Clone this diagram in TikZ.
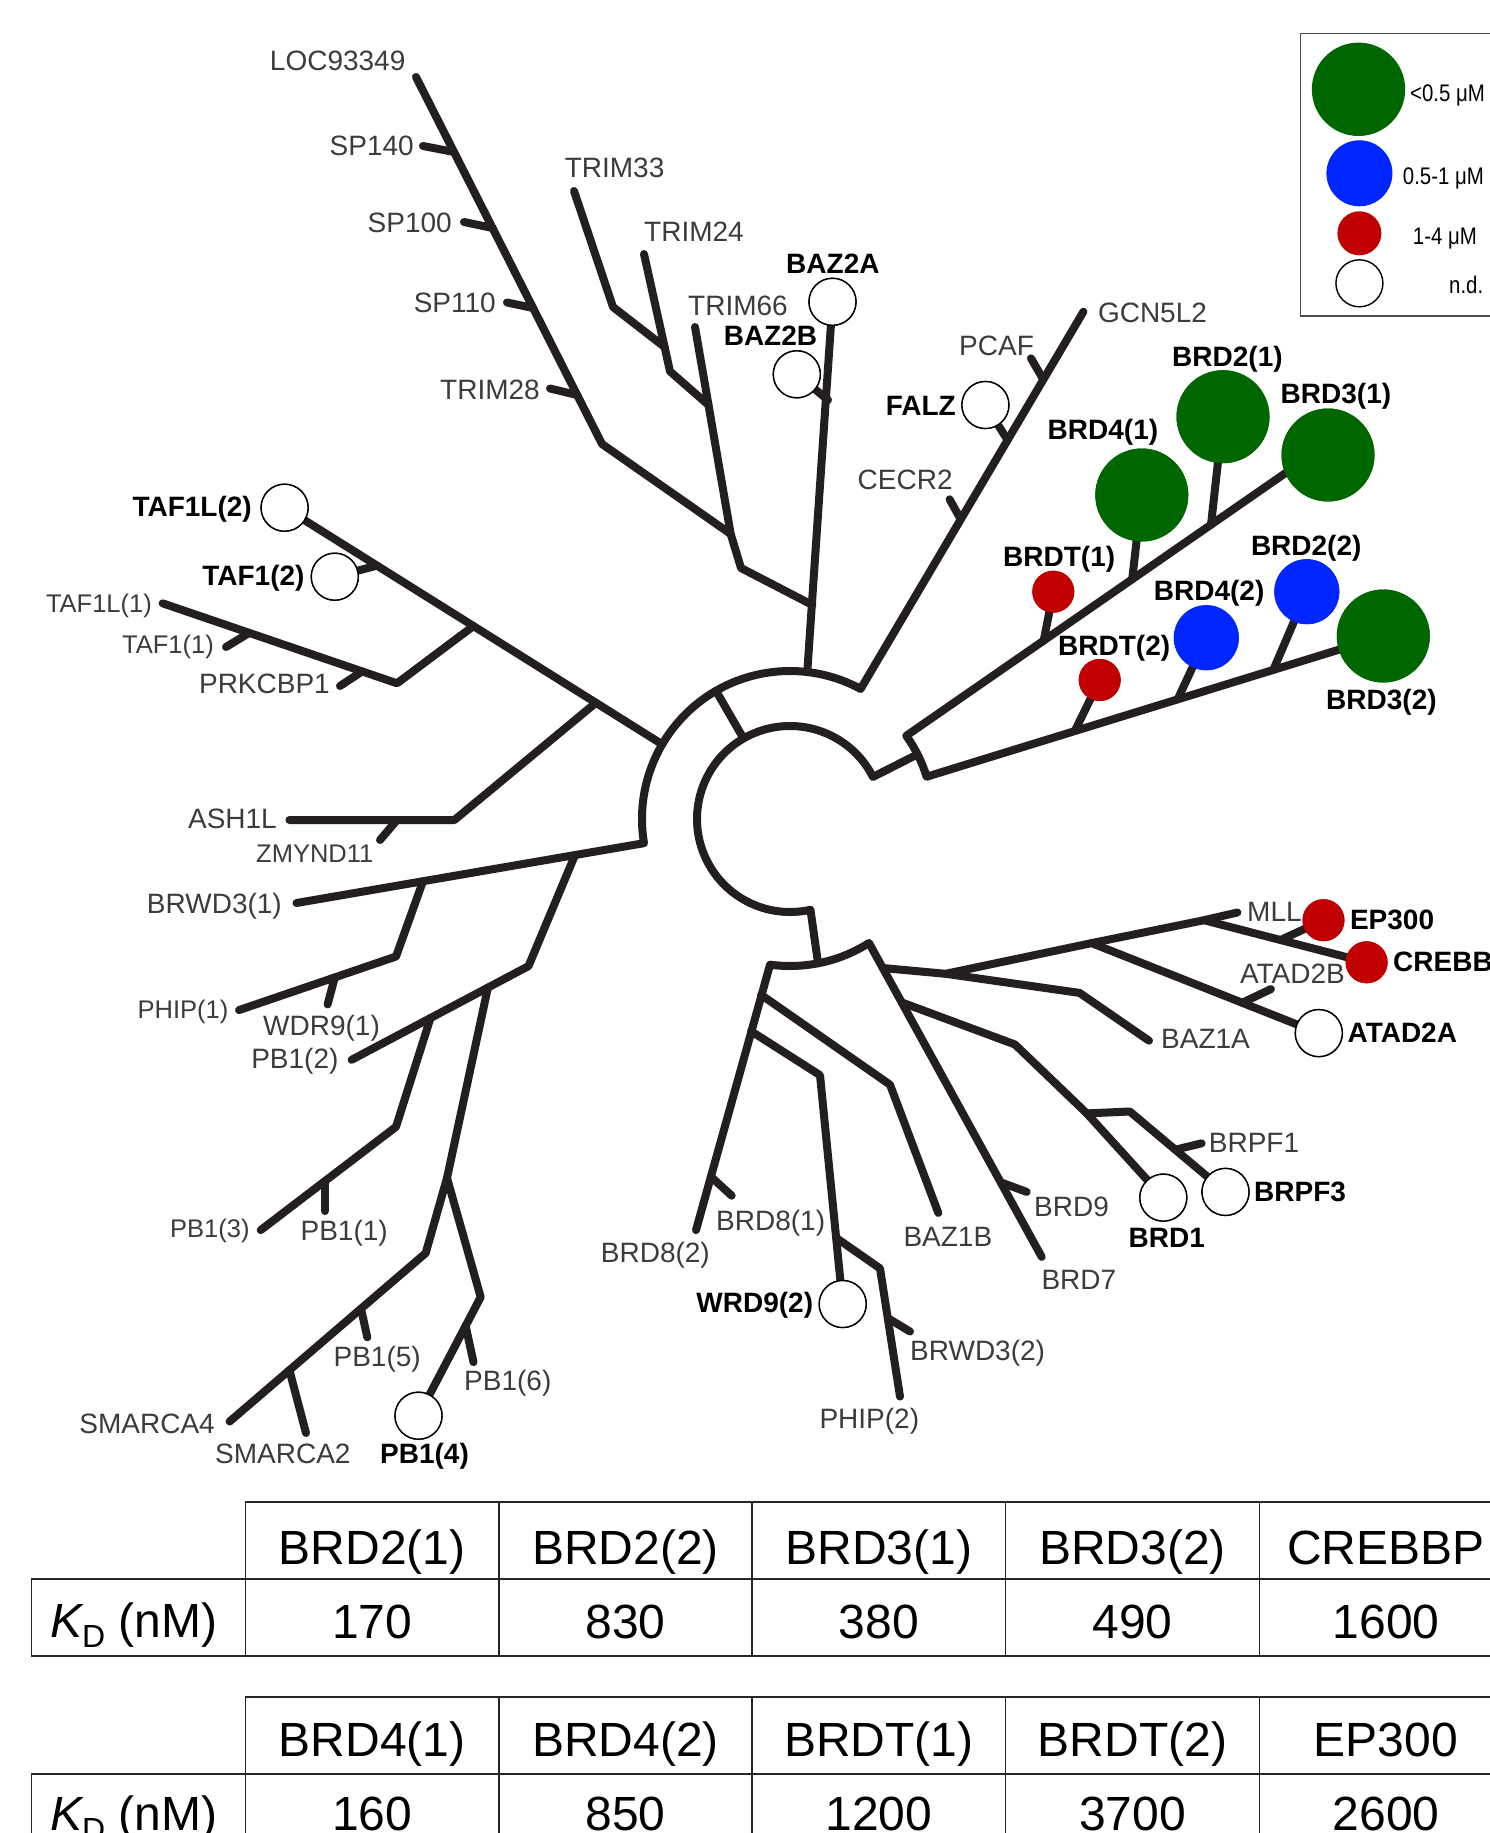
\documentclass[tikz,border=0pt]{standalone}
\usepackage{fontspec}
\setmainfont{Liberation Sans}
\newfontfamily\legfont[FakeStretch=0.85]{Liberation Sans}
\usetikzlibrary{calc}
\definecolor{treec}{RGB}{35,31,32}
\definecolor{labc}{RGB}{60,60,60}
\definecolor{kgreen}{RGB}{0,102,0}
\definecolor{kblue}{RGB}{0,38,255}
\definecolor{kred}{RGB}{192,0,0}
\begin{document}
\begin{tikzpicture}[x=1pt,y=-1pt,
  br/.style={line width=8pt, draw=treec, line cap=round, line join=round},
  ndc/.style={circle, draw=black, line width=1.4pt, fill=white, minimum size=47pt, inner sep=0pt},
  gbig/.style={circle, fill=kgreen, minimum size=93pt, inner sep=0pt},
  bmid/.style={circle, fill=kblue, minimum size=65pt, inner sep=0pt},
  rsml/.style={circle, fill=kred, minimum size=42pt, inner sep=0pt},
  lab/.style={font=\fontsize{28}{32}\selectfont, text=labc, inner sep=0pt},
  labn/.style={font=\fontsize{25.5}{30}\selectfont, text=labc, inner sep=0pt},
  blab/.style={font=\fontsize{28}{32}\selectfont\bfseries, text=black, inner sep=0pt},
  leg/.style={font=\fontsize{24}{28}\selectfont\legfont, text=black, inner sep=0pt},
  tab/.style={font=\fontsize{48}{56}\selectfont, text=black, inner sep=0pt, anchor=base},
  hline/.style={line width=2pt, draw=black!85},
  vline/.style={line width=1.3pt, draw=black!85}
]
\useasboundingbox (0,0) rectangle (1490,1833);
\clip (0,0) rectangle (1490,1833);
\fill[white] (0,0) rectangle (1490,1833);

% ---------- centre geometry ----------
\coordinate (C) at (790,819);
\coordinate (oL) at ($(C)+(-189.4:148)$);
\coordinate (oR) at ($(C)+(-61.5:148)$);
\coordinate (oTaf) at ($(C)+(-149.7:148)$);
\coordinate (oBaz) at ($(C)+(-83.3:148)$);
\coordinate (oLink) at ($(C)+(-120:148)$);
\coordinate (iLink) at ($(C)+(-120:93)$);
\coordinate (iR) at ($(C)+(-26.9:93)$);
\coordinate (brM) at ($(C)+(-26.9:143)$);
\coordinate (brT) at ($(C)+(-35.6:143)$);
\coordinate (iB) at ($(C)+(77.3:93)$);
\coordinate (lowS) at ($(C)+(79:147)$);
\coordinate (lowL) at ($(C)+(97.8:147)$);

% ---------- leaf circles (nodes) ----------
\node[ndc] (nBAZ2A) at (832.5,301.8) {};
\node[ndc] (nBAZ2B) at (796.8,374.3) {};
\node[ndc] (nFALZ) at (985.4,405) {};
\node[ndc] (nTAF1L2) at (284.6,507.7) {};
\node[ndc] (nTAF12) at (334.8,576.7) {};
\node[ndc] (nPB14) at (418.5,1415.7) {};
\node[ndc] (nWRD92) at (842.7,1304) {};
\node[ndc] (nBRD1) at (1163.3,1197.6) {};
\node[ndc] (nBRPF3) at (1225.5,1191.9) {};
\node[ndc] (nATAD2A) at (1318.8,1033.1) {};
\node[gbig] (nBRD21) at (1223,416.7) {};
\node[gbig] (nBRD31) at (1328,455) {};
\node[gbig] (nBRD41) at (1141.8,495) {};
\node[gbig] (nBRD32) at (1383.3,636) {};
\node[bmid] (nBRD22) at (1306.8,591.7) {};
\node[bmid] (nBRD42) at (1206.3,637.7) {};
\node[rsml] (nBRDT1) at (1053.3,591.7) {};
\node[rsml] (nBRDT2) at (1099.7,680) {};
\node[rsml] (nEP300) at (1323.5,920.2) {};
\node[rsml] (nCREBBP) at (1366.6,962.3) {};

% ---------- coordinates of the tree ----------
\coordinate (lLOC) at (416,77);
\coordinate (s140a) at (423,146);   \coordinate (s140b) at (454,152);
\coordinate (s100a) at (464,222);   \coordinate (s100b) at (492.5,228);
\coordinate (s110a) at (507,302.5); \coordinate (s110b) at (533,308);
\coordinate (t28a) at (550,388.5);  \coordinate (t28b) at (577,395);
\coordinate (spK) at (602,444);
\coordinate (J3) at (730.7,534);
\coordinate (lT33) at (574,191); \coordinate (t33k) at (613,307); \coordinate (J1) at (664.6,347);
\coordinate (lT24) at (644,254); \coordinate (t24k) at (670,371.4); \coordinate (J2) at (708.5,405);
\coordinate (lT66) at (695,327); \coordinate (kJ) at (741,568); \coordinate (J4) at (812.4,605);
\coordinate (b2b) at (828,400);
\coordinate (lGCN) at (1083.4,311.7);
\coordinate (pcA) at (1031,358.3); \coordinate (pcB) at (1043,379);
\coordinate (ceA) at (949.6,499.3); \coordinate (ceB) at (960,518);
\coordinate (faB) at (1007.6,440);
\coordinate (tfJ1) at (377,565.6);
\coordinate (tfJ2) at (473.5,626); \coordinate (tfK) at (397,683.3); \coordinate (lTAF1L1) at (162.6,603.3);
\coordinate (taf11a) at (226,647); \coordinate (taf11b) at (249,633);
\coordinate (prkA) at (340,686); \coordinate (prkB) at (362,671.5);
\coordinate (tfJ3) at (596,702.7); \coordinate (ashK) at (454.4,820); \coordinate (lASH) at (289.4,820);
\coordinate (zmA) at (380,840); \coordinate (zmB) at (397,820);
\coordinate (lBRWD31) at (296.5,903);
\coordinate (phJ) at (423,881.2); \coordinate (phK) at (396,956.5); \coordinate (lPHIP1) at (239,1010.1);
\coordinate (wdA) at (327.6,1004.4); \coordinate (wdB) at (334.8,977.4);
\coordinate (pbJ) at (575,855.1); \coordinate (pbK) at (528.5,966.1); \coordinate (lPB12) at (351.6,1059.8);
\coordinate (pbJa) at (430.5,1018); \coordinate (pbKa) at (396,1126.8); \coordinate (lPB13) at (260.7,1230.1);
\coordinate (pb11a) at (325,1181); \coordinate (pb11b) at (325,1211);
\coordinate (pbJb) at (487.9,987.6); \coordinate (pbJc) at (447,1178);
\coordinate (smK) at (425.7,1253.1); \coordinate (lSMA4) at (229.6,1421.5);
\coordinate (pb15a) at (361,1308.7); \coordinate (pb15b) at (367.3,1337.3);
\coordinate (sm2a) at (289.4,1370.1); \coordinate (sm2b) at (306,1433);
\coordinate (pb4K) at (480.7,1297.1);
\coordinate (pb16a) at (465.6,1325.8); \coordinate (pb16b) at (473.5,1362.1);
\coordinate (lBRD82) at (696,1230.1); \coordinate (lBRD7) at (1041.7,1256.9);
\coordinate (b81a) at (710.8,1176.6); \coordinate (b81b) at (731.7,1195.7);
\coordinate (bz1bJ) at (761.1,994.8); \coordinate (bz1bK) at (890,1084.7); \coordinate (lBAZ1B) at (938.3,1212.9);
\coordinate (wrJ) at (751.1,1031.2); \coordinate (wrK) at (820,1075.2);
\coordinate (ph2J) at (836.1,1237.8); \coordinate (ph2K) at (880,1268.4); \coordinate (lPHIP2) at (900,1396.6);
\coordinate (bw2a) at (887.8,1318.1); \coordinate (bw2b) at (910,1331.5);
\coordinate (b9a) at (1000.7,1182.3); \coordinate (b9b) at (1026.7,1191.9);
\coordinate (rJ0) at (882.8,968); \coordinate (rJ) at (945.7,973.8);
\coordinate (atJ) at (1091.6,943.1); \coordinate (mlJ) at (1204,920.2); \coordinate (lMLL) at (1237.4,912.5);
\coordinate (epA) at (1280.5,940);
\coordinate (at2bA) at (1242.2,1002.8); \coordinate (at2bB) at (1270.9,989.1);
\coordinate (bz1aK) at (1079.6,992.9); \coordinate (lBAZ1A) at (1149,1040.7);
\coordinate (b1J) at (901.7,1002.4); \coordinate (b1K) at (1015,1044.5); \coordinate (b1K2) at (1086.8,1113.4);
\coordinate (bpK) at (1129.8,1111.5);
\coordinate (bpf1a) at (1175.3,1149.7); \coordinate (bpf1b) at (1201.6,1143.3);
\coordinate (b31end) at (1300,463);
\coordinate (dt1) at (1043.7,640.6); \coordinate (d41) at (1132.2,579.3); \coordinate (d21) at (1211,524.8);
\coordinate (dt2) at (1074.8,731); \coordinate (d42) at (1177.6,699.4); \coordinate (d22) at (1273.3,669.9);

% ---------- branches ----------
\draw[br] (lBRWD31) -- (oL) arc[start angle=-189.4, end angle=-61.5, radius=148] -- (lGCN);
\draw[br] (brM) -- (iR) arc[start angle=-26.9, end angle=-282.7, radius=93] -- (lowS);
\draw[br] (oLink) -- (iLink);
\draw[br] (lBRD82) -- (lowL) arc[start angle=97.8, end angle=57.5, radius=147] -- (lBRD7);
\draw[br] (b31end) -- (brT) arc[start angle=-35.6, end angle=-17.2, radius=143] -- (nBRD32.center);
\draw[br] (dt1) -- (nBRDT1.center);
\draw[br] (d41) -- (nBRD41.center);
\draw[br] (d21) -- (nBRD21.center);
\draw[br] (dt2) -- (nBRDT2.center);
\draw[br] (d42) -- (nBRD42.center);
\draw[br] (d22) -- (nBRD22.center);
\draw[br] (lLOC) -- (spK) -- (J3);
\draw[br] (s140a) -- (s140b);
\draw[br] (s100a) -- (s100b);
\draw[br] (s110a) -- (s110b);
\draw[br] (t28a) -- (t28b);
\draw[br] (lT33) -- (t33k) -- (J1);
\draw[br] (lT24) -- (J1) -- (t24k) -- (J2);
\draw[br] (lT66) -- (J2) -- (J3) -- (kJ) -- (J4);
\draw[br] (oBaz) -- (nBAZ2A.center);
\draw[br] (b2b) -- (nBAZ2B.center);
\draw[br] (pcA) -- (pcB);
\draw[br] (ceA) -- (ceB);
\draw[br] (faB) -- (nFALZ.center);
\draw[br] (oTaf) -- (nTAF1L2.center);
\draw[br] (tfJ1) -- (nTAF12.center);
\draw[br] (tfJ2) -- (tfK) -- (lTAF1L1);
\draw[br] (taf11a) -- (taf11b);
\draw[br] (prkA) -- (prkB);
\draw[br] (tfJ3) -- (ashK) -- (lASH);
\draw[br] (zmA) -- (zmB);
\draw[br] (phJ) -- (phK) -- (lPHIP1);
\draw[br] (wdA) -- (wdB);
\draw[br] (pbJ) -- (pbK) -- (lPB12);
\draw[br] (pbJa) -- (pbKa) -- (lPB13);
\draw[br] (pb11a) -- (pb11b);
\draw[br] (pbJb) -- (pbJc) -- (smK) -- (lSMA4);
\draw[br] (pb15a) -- (pb15b);
\draw[br] (sm2a) -- (sm2b);
\draw[br] (pbJc) -- (pb4K) -- (nPB14.center);
\draw[br] (pb16a) -- (pb16b);
\draw[br] (b81a) -- (b81b);
\draw[br] (bz1bJ) -- (bz1bK) -- (lBAZ1B);
\draw[br] (wrJ) -- (wrK) -- (nWRD92.center);
\draw[br] (ph2J) -- (ph2K) -- (lPHIP2);
\draw[br] (bw2a) -- (bw2b);
\draw[br] (b9a) -- (b9b);
\draw[br] (rJ0) -- (rJ) -- (atJ) -- (mlJ) -- (nCREBBP.center);
\draw[br] (mlJ) -- (lMLL);
\draw[br] (epA) -- (nEP300.center);
\draw[br] (atJ) -- (nATAD2A.center);
\draw[br] (at2bA) -- (at2bB);
\draw[br] (rJ) -- (bz1aK) -- (lBAZ1A);
\draw[br] (b1J) -- (b1K) -- (b1K2) -- (nBRD1.center);
\draw[br] (b1K2) -- (bpK) -- (nBRPF3.center);
\draw[br] (bpf1a) -- (bpf1b);

% redraw circles on top of branches
\foreach \n in {nBAZ2A,nBAZ2B,nFALZ,nTAF1L2,nTAF12,nPB14,nWRD92,nBRD1,nBRPF3,nATAD2A}
  \node[ndc] at (\n) {};
\foreach \n in {nBRD21,nBRD31,nBRD41,nBRD32}
  \node[gbig] at (\n) {};
\foreach \n in {nBRD22,nBRD42}
  \node[bmid] at (\n) {};
\foreach \n in {nBRDT1,nBRDT2,nEP300,nCREBBP}
  \node[rsml] at (\n) {};

% ---------- labels ----------
\node[lab, anchor=base east] (tLOC) at (405.6,71) {LOC93349};
\node[lab, anchor=base east] (tSP140) at (414,156) {SP140};
\node[lab, anchor=base east] (tSP100) at (452,232) {SP100};
\node[lab, anchor=base east] (tSP110) at (496,312) {SP110};
\node[lab, anchor=base east] (tTRIM28) at (540,399) {TRIM28};
\node[lab, anchor=base west] (tTRIM33) at (564.6,177) {TRIM33};
\node[lab, anchor=base west] (tTRIM24) at (644,241) {TRIM24};
\node[lab, anchor=base west] (tTRIM66) at (688,315) {TRIM66};
\node[lab, anchor=base west] (tGCN) at (1097.8,322) {GCN5L2};
\node[lab, anchor=base west] (tPCAF) at (959,355) {PCAF};
\node[lab, anchor=base west] (tCECR2) at (857.5,489) {CECR2};
\node[labn, anchor=base east] (tTAF1L1) at (152,612) {TAF1L(1)};
\node[labn, anchor=base east] (tTAF11) at (214,653) {TAF1(1)};
\node[lab, anchor=base east] (tPRK) at (330,693) {PRKCBP1};
\node[lab, anchor=base east] (tASH) at (277,828) {ASH1L};
\node[labn, anchor=base west] (tZMY) at (256,862.5) {ZMYND11};
\node[lab, anchor=base east] (tBRWD31) at (282,913.7) {BRWD3(1)};
\node[labn, anchor=base east] (tPHIP1) at (228.6,1018.5) {PHIP(1)};
\node[lab, anchor=base west] (tWDR91) at (263,1035.7) {WDR9(1)};
\node[lab, anchor=base east] (tPB12) at (338.6,1068.3) {PB1(2)};
\node[labn, anchor=base east] (tPB13) at (249.7,1237) {PB1(3)};
\node[lab, anchor=base west] (tPB11) at (300.4,1240.5) {PB1(1)};
\node[lab, anchor=base west] (tPB15) at (333.4,1366.7) {PB1(5)};
\node[lab, anchor=base west] (tPB16) at (464,1390.8) {PB1(6)};
\node[lab, anchor=base east] (tSMA4) at (215,1433) {SMARCA4};
\node[lab, anchor=base west] (tSMA2) at (215,1463.5) {SMARCA2};
\node[lab, anchor=base west] (tBRD82) at (600.7,1262.7) {BRD8(2)};
\node[lab, anchor=base west] (tBRD81) at (716,1230.1) {BRD8(1)};
\node[lab, anchor=base west] (tBAZ1B) at (903.3,1246.2) {BAZ1B};
\node[lab, anchor=base west] (tBRWD32) at (910,1360.2) {BRWD3(2)};
\node[lab, anchor=base west] (tPHIP2) at (819.3,1428) {PHIP(2)};
\node[lab, anchor=base west] (tBRD9) at (1034,1216.7) {BRD9};
\node[lab, anchor=base west] (tBRD7) at (1041.3,1289.4) {BRD7};
\node[lab, anchor=base west] (tBRPF1) at (1208.7,1152.5) {BRPF1};
\node[lab, anchor=base west] (tBAZ1A) at (1161,1048.4) {BAZ1A};
\node[lab, anchor=base west] (tMLL) at (1247,921.3) {MLL};
\node[lab, anchor=base west] (tATAD2B) at (1239.8,983.3) {ATAD2B};

\node[blab, anchor=base west] (bBAZ2A) at (786,273) {BAZ2A};
\node[blab, anchor=base west] (bBAZ2B) at (723.6,345.7) {BAZ2B};
\node[blab, anchor=base east] (bFALZ) at (956,415) {FALZ};
\node[blab, anchor=base west] (bBRD21) at (1172,366.7) {BRD2(1)};
\node[blab, anchor=base west] (bBRD31) at (1280.5,403.3) {BRD3(1)};
\node[blab, anchor=base west] (bBRD41) at (1047.5,439.3) {BRD4(1)};
\node[blab, anchor=base east] (bTAF1L2) at (252,516.7) {TAF1L(2)};
\node[blab, anchor=base east] (bTAF12) at (304.7,585) {TAF1(2)};
\node[blab, anchor=base west] (bBRDT1) at (1003,566.7) {BRDT(1)};
\node[blab, anchor=base west] (bBRD22) at (1250.8,555) {BRD2(2)};
\node[blab, anchor=base west] (bBRD42) at (1153.7,600.7) {BRD4(2)};
\node[blab, anchor=base west] (bBRDT2) at (1058,655) {BRDT(2)};
\node[blab, anchor=base west] (bBRD32) at (1326,709.3) {BRD3(2)};
\node[blab, anchor=base west] (bEP300) at (1349.8,929.7) {EP300};
\node[blab, anchor=base west] (bCREBBP) at (1393,971.8) {CREBBP};
\node[blab, anchor=base west] (bATAD2A) at (1347.4,1042.6) {ATAD2A};
\node[blab, anchor=base west] (bBRPF3) at (1254,1201.4) {BRPF3};
\node[blab, anchor=base west] (bBRD1) at (1128.4,1247.4) {BRD1};
\node[blab, anchor=base east] (bWRD92) at (813.3,1312.4) {WRD9(2)};
\node[blab, anchor=base west] (bPB14) at (380,1463.5) {PB1(4)};

% ---------- legend ----------
\draw[line width=1.5pt, draw=black!70] (1300.6,33.3) rectangle (1530,316);
\node[gbig, minimum size=93.4pt] (lgG) at (1358.5,89.3) {};
\node[bmid, minimum size=66pt] (lgB) at (1359.4,173.3) {};
\node[rsml, minimum size=44pt] (lgR) at (1359.4,233.3) {};
\node[ndc] (lgN) at (1359.4,283.3) {};
\node[leg, anchor=base west] (lgtG) at (1410,101.7) {<0.5 μM};
\node[leg, anchor=base west] (lgtB) at (1402.7,184) {0.5-1 μM};
\node[leg, anchor=base west] (lgtR) at (1412.7,244) {1-4 μM};
\node[leg, anchor=base west] (lgtN) at (1449,293.3) {n.d.};

% ---------- tables ----------
\foreach \yt/\ym/\yb in {1501.7/1578.5/1655.7, 1696.7/1773.9/1851}{
  \draw[hline] (245.2,\yt) -- (1520,\yt);
  \draw[hline] (31.4,\ym) -- (1520,\ym);
  \draw[hline] (31.4,\yb) -- (1520,\yb);
  \draw[vline] (31.4,\ym) -- (31.4,\yb);
  \foreach \xc in {245.2,499,752,1005.7,1259.5,1513}
    \draw[vline] (\xc,\yt) -- (\xc,\yb);
}
\foreach \xc/\h/\v [count=\i] in {372.1/BRD2(1)/170, 625.5/BRD2(2)/830, 878.9/BRD3(1)/380, 1132.6/BRD3(2)/490, 1386/CREBBP/1600}{
  \node[tab] (th\i) at (\xc,1564) {\h};
  \node[tab] (tv\i) at (\xc,1638.3) {\v};
}
\foreach \xc/\h/\v [count=\i] in {372.1/BRD4(1)/160, 625.5/BRD4(2)/850, 878.9/BRDT(1)/1200, 1132.6/BRDT(2)/3700, 1386/EP300/2600}{
  \node[tab] (sh\i) at (\xc,1756) {\h};
  \node[tab] (sv\i) at (\xc,1830) {\v};
}
\node[tab, anchor=base west] (kd1) at (50,1637) {{\itshape K}\raisebox{-0.22em}{\fontsize{32}{36}\selectfont D} (nM)};
\node[tab, anchor=base west] (kd2) at (50,1830) {{\itshape K}\raisebox{-0.22em}{\fontsize{32}{36}\selectfont D} (nM)};
\end{tikzpicture}
\end{document}
